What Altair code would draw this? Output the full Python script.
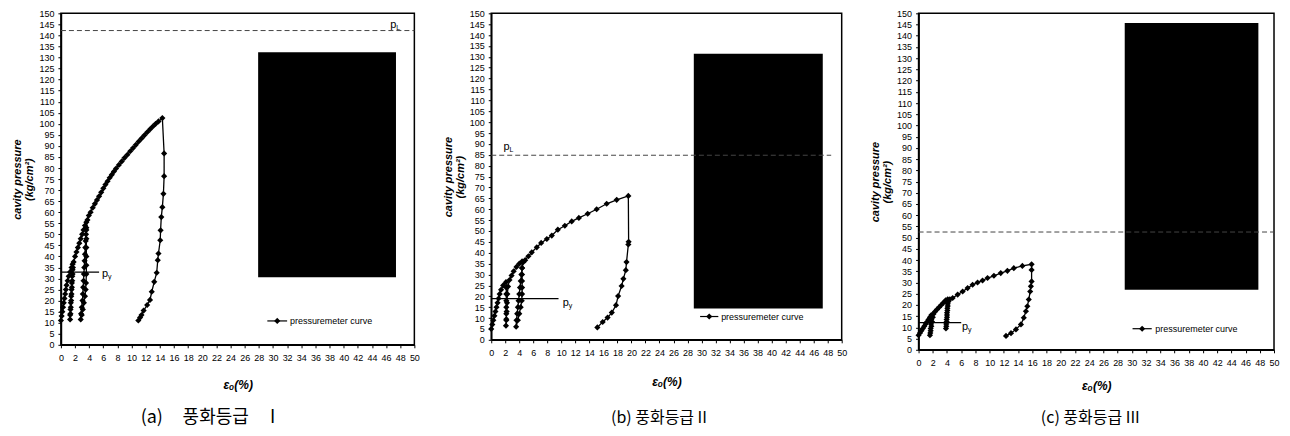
import altair as alt
import pandas as pd

# ---------------- Panel (a) ----------------
A_X = [0, 0.1, 0.2, 0.3, 0.4, 0.5, 0.6, 0.7, 0.8, 0.95, 1.1, 1.3, 1.5, 1.65,
       1.65, 1.6, 1.55, 1.5, 1.45, 1.4, 1.35, 1.3, 1.3,
       1.35, 1.4, 1.45, 1.5, 1.55, 1.6, 1.65, 1.7, 1.8,
       2.0, 2.2, 2.4, 2.6, 2.8, 3.0, 3.2, 3.4, 3.6,
       3.6, 3.6, 3.6, 3.6, 3.6, 3.6, 3.55, 3.5, 3.4, 3.25, 3.1, 2.95, 2.8,
       2.85, 2.95, 3.05, 3.1, 3.15, 3.2, 3.25, 3.3, 3.35, 3.4, 3.45, 3.5, 3.55, 3.6, 3.75,
       3.95, 4.2, 4.5, 4.8, 5.1, 5.4, 5.7, 6.0, 6.3, 6.6, 6.9, 7.2, 7.5, 7.8, 8.2, 8.6,
       9.0, 9.4, 9.8, 10.2, 10.6, 11.0, 11.4, 11.8, 12.2, 12.6, 13.0, 13.4, 13.8, 14.35,
       14.6, 14.6, 14.5, 14.35, 14.2, 14.1, 14.05, 13.8, 13.7, 13.55, 13.2, 12.85, 12.6,
       12.2, 11.7, 11.4, 11.2, 10.95]
A_Y = [11, 13, 15, 17, 19, 21, 23, 25, 27, 29, 31, 33, 35, 36.5,
       34, 31, 28, 25, 22, 19, 16, 13.5, 11.5,
       14, 17, 20, 23, 26, 29, 32, 35, 37.5,
       40, 42, 44, 46, 48, 50, 52, 54, 55.5,
       52, 48, 44, 40, 36, 32, 28, 25, 22, 19, 16, 13.5, 11.5,
       14, 17, 20, 23, 26, 29, 32, 35, 38, 41, 44, 47, 50, 53, 56.5,
       58.5, 60, 62, 63.8, 65.5, 67.2, 69, 70.8, 72.5, 74, 75.6, 77, 78.4, 79.8, 81.4, 83,
       84.6, 86, 87.6, 89, 90.5, 92, 93.4, 94.8, 96.2, 97.5, 98.8, 100, 101.1, 102.6,
       86.6, 76.3, 68.3, 62.3, 57.8, 51.8, 47.3, 41.3, 38.3, 32.6, 28.5, 24, 20.3,
       18, 15.5, 13.5, 12.3, 11]
A_PL = 142.2
A_PL_END = 50
A_PL_LABEL = (46.6, 144.8)
A_PY = 32.9
A_PY_END = 5.4
A_PY_LABEL = (5.8, 32.2)
A_BOX = (27.9, 47.4, 30.6, 132.4)
A_LEGEND = (29.2, 32.0, 30.6, 32.4, 10.8)
# caption pieces: text, centre offset from plot left (px), font size
A_CAPTION = [("(a)", 91, 18), ("풍화등급", 155, 18), ("I", 212, 18)]

# ---------------- Panel (b) ----------------
B_X = [0, 0.15, 0.3, 0.45, 0.6, 0.75, 0.9, 1.05, 1.2, 1.4, 1.7, 2.1,
       2.15, 2.15, 2.15, 2.15, 2.15, 2.15, 2.1,
       2.15, 2.2, 2.25, 2.3, 2.4, 2.6,
       2.9, 3.2, 3.6, 4.0, 4.4,
       4.4, 4.4, 4.4, 4.4, 4.4, 4.35, 4.2, 4.0, 3.8, 3.55,
       3.6, 3.7, 3.8, 3.9, 4.0, 4.1, 4.2, 4.3, 4.4, 4.6,
       4.84, 5.3, 5.78, 6.5, 7.12, 7.93, 8.64, 9.5, 10.5, 11.48, 12.5, 13.76, 15.04,
       16.47, 17.9, 19.56,
       19.6, 19.56, 19.3, 19.2, 18.85, 18.6, 18.1, 17.8, 17.2, 16.6, 15.9, 15.14]
B_Y = [5, 7, 9, 11, 13, 15, 17, 19, 21, 23, 25, 26.5,
       24, 21, 18, 15, 12, 9, 6.5,
       9.5, 13, 17, 21, 24.5, 27.5,
       29.5, 31.5, 33.5, 35, 36,
       33, 30, 27, 24, 21, 18, 15, 12, 9, 6,
       9, 12, 15, 18, 21, 24, 27, 30, 33, 35.8,
       36.6, 38.4, 40.2, 42.5, 44.5, 46.3, 47.9, 50.6, 52.4, 54.4, 56, 57.9, 60,
       62.5, 64.3, 66.1,
       45, 43.8, 35.7, 32, 28, 24.7, 20.1, 15.9, 12.5, 10.2, 8.2, 5.7]
B_PL = 84.8
B_PL_END = 48.5
B_PL_LABEL = (1.75, 88.7)
B_PY = 18.9
B_PY_END = 9.6
B_PY_LABEL = (10.2, 17.0)
B_BOX = (28.9, 47.3, 14.4, 131.4)
B_LEGEND = (29.8, 32.4, 31.1, 32.8, 10.7)
B_CAPTION = [("(b) 풍화등급 II", 168, 16)]

# ---------------- Panel (c) ----------------
C_X = [0, 0.2, 0.4, 0.6, 0.8, 1.0, 1.2, 1.4, 1.6, 1.8,
       1.8, 1.75, 1.7, 1.65, 1.6,
       1.7, 1.8, 1.9, 2.0, 2.1,
       2.3, 2.6, 2.9, 3.2, 3.5, 3.8, 4.1,
       4.1, 4.05, 4.0, 4.0, 3.95, 3.9, 3.85,
       3.9, 3.95, 4.0, 4.05, 4.1, 4.2, 4.4,
       4.8, 5.5, 6.2, 6.9, 7.6, 8.3, 9.0, 9.7, 10.6, 11.56, 12.5, 13.4, 14.6, 15.9,
       15.9, 15.9, 15.8, 15.7, 15.5, 15.3, 15.1, 14.8, 14.4, 13.7, 13.0, 12.3]
C_Y = [6.5, 7.5, 8.5, 9.5, 10.5, 11.5, 12.5, 13.5, 14.5, 15.5,
       13.5, 11.5, 9.5, 7.5, 6.5,
       8.5, 10.5, 12.5, 14.5, 16,
       17, 18, 19, 20, 21, 22, 22.5,
       20.5, 18.5, 16.5, 14.5, 12.5, 10.5, 9.5,
       11.5, 13.5, 15.5, 17.5, 19.5, 21.5, 22.5,
       23.1, 24.6, 26, 27.5, 29, 30, 30.9, 32, 33, 34.2, 35.2, 36.4, 37.4, 38.1,
       35.6, 30.5, 28.3, 26, 22.4, 19.4, 17.2, 14.3, 11.3, 9.1, 7.4, 6.2]
C_PL = 52.5
C_PL_END = 50
C_PL_LABEL = None
C_PY = 12.1
C_PY_END = 6.0
C_PY_LABEL = (6.1, 10.3)
C_BOX = (29.0, 47.8, 26.8, 145.7)
C_LEGEND = (30.1, 32.8, 31.45, 33.3, 9.4)
C_CAPTION = [("(c) 풍화등급 III", 172, 16)]

X_TICKS = list(range(0, 51, 2))
Y_TICKS = list(range(0, 151, 5))
Y_TITLE = ["cavity pressure", "(kg/cm²)"]
X_TITLE = "εₒ(%)"
LEGEND_TEXT = "pressuremeter curve"

NUM_FONT = "Liberation Sans Narrow, Liberation Sans, Arial, sans-serif"
TITLE_FONT = "Liberation Sans, Arial, sans-serif"
KR_FONT = "Noto Sans CJK KR"


def panel(xs, ys, pl, pl_end, pl_label, py, py_end, py_label, box, legend,
          caption, width, height, xtitle_dy):
    xsc = alt.Scale(domain=[0, 50], nice=False, zero=False)
    ysc = alt.Scale(domain=[0, 150], nice=False, zero=False)
    X = alt.X("x:Q", scale=xsc, axis=alt.Axis(
        values=X_TICKS, title=X_TITLE, titleX=width / 2, titleY=xtitle_dy,
        titleBaseline="middle", labelFont=NUM_FONT, labelFontSize=9,
        labelColor="black", tickSize=3, labelPadding=6, labelFlush=False,
        labelOverlap=False, titleFont=TITLE_FONT, titleFontSize=12,
        titleFontStyle="italic", titleFontWeight="bold", grid=False))
    Y = alt.Y("y:Q", scale=ysc, axis=alt.Axis(
        values=Y_TICKS, title=Y_TITLE, titleX=-43, titleY=height / 2,
        titleAngle=270, titleBaseline="middle", titleAlign="center",
        titleLineHeight=12, labelFont=NUM_FONT, labelFontSize=9,
        labelColor="black", tickSize=3, labelPadding=4, labelFlush=False,
        labelOverlap=False, titleFont=TITLE_FONT, titleFontSize=11,
        titleFontStyle="italic", titleFontWeight="bold", grid=False))

    df = pd.DataFrame({"x": xs, "y": ys, "i": list(range(len(xs)))})
    line = alt.Chart(df).mark_line(color="black", strokeWidth=1.3).encode(
        x=X, y=Y, order="i:Q")
    pts = alt.Chart(df).mark_point(shape="diamond", filled=True, color="black",
                                   size=38, opacity=1).encode(x=X, y=Y)

    pl_df = pd.DataFrame({"x": [0], "x2": [pl_end], "y": [pl]})
    pl_rule = alt.Chart(pl_df).mark_rule(color="#444", strokeWidth=1,
                                         strokeDash=[5, 3]).encode(
        x=X, x2="x2:Q", y=Y)

    py_df = pd.DataFrame({"x": [0], "x2": [py_end], "y": [py]})
    py_rule = alt.Chart(py_df).mark_rule(color="black", strokeWidth=1.3).encode(
        x=X, x2="x2:Q", y=Y)

    bx = pd.DataFrame({"x": [box[0]], "x2": [box[1]], "y": [box[2]], "y2": [box[3]]})
    rect = alt.Chart(bx).mark_rect(color="black").encode(
        x=X, x2="x2:Q", y=Y, y2="y2:Q")

    lg_line = alt.Chart(pd.DataFrame({"x": [legend[0]], "x2": [legend[1]],
                                      "y": [legend[4]]})).mark_rule(
        color="black", strokeWidth=1.2).encode(x=X, x2="x2:Q", y=Y)
    lg_pt = alt.Chart(pd.DataFrame({"x": [legend[2]], "y": [legend[4]]})).mark_point(
        shape="diamond", filled=True, color="black", size=38, opacity=1).encode(x=X, y=Y)
    lg_txt = alt.Chart(pd.DataFrame({"x": [legend[3]], "y": [legend[4]],
                                     "t": [LEGEND_TEXT]})).mark_text(
        align="left", baseline="middle", font=TITLE_FONT, fontSize=9,
        color="black").encode(x=X, y=Y, text="t:N")

    layers = [rect, pl_rule, py_rule, line, pts, lg_line, lg_pt, lg_txt]

    def sub_label(pos, main, sub):
        d = pd.DataFrame({"x": [pos[0]], "y": [pos[1]], "t": [main], "s": [sub]})
        m = alt.Chart(d).mark_text(align="left", baseline="middle",
                                   font=TITLE_FONT, fontSize=11, color="black").encode(
            x=X, y=Y, text="t:N")
        s = alt.Chart(d).mark_text(align="left", baseline="middle", dx=6, dy=3,
                                   font=TITLE_FONT, fontSize=7, color="black").encode(
            x=X, y=Y, text="s:N")
        return [m, s]

    if pl_label is not None:
        layers += sub_label(pl_label, "p", "L")
    layers += sub_label(py_label, "p", "y")

    for txt, cx, fs in caption:
        cap = alt.Chart(pd.DataFrame({"t": [txt]})).mark_text(
            align="center", baseline="middle", font=KR_FONT, fontSize=fs,
            color="black").encode(text="t:N", x=alt.value(cx), y=alt.value(405))
        layers.append(cap)

    return alt.layer(*layers).properties(width=width, height=height)


pa = panel(A_X, A_Y, A_PL, A_PL_END, A_PL_LABEL, A_PY, A_PY_END, A_PY_LABEL,
           A_BOX, A_LEGEND, A_CAPTION, 354, 332, 40)
pb = panel(B_X, B_Y, B_PL, B_PL_END, B_PL_LABEL, B_PY, B_PY_END, B_PY_LABEL,
           B_BOX, B_LEGEND, B_CAPTION, 351, 327, 42)
pc = panel(C_X, C_Y, C_PL, C_PL_END, C_PL_LABEL, C_PY, C_PY_END, C_PY_LABEL,
           C_BOX, C_LEGEND, C_CAPTION, 356, 337, 36)

chart = alt.hconcat(pa, pb, pc, spacing=77, bounds="flush").properties(
    padding={"left": 3, "top": 0, "right": 2, "bottom": 0},
    background="white",
).configure_view(stroke="black", strokeWidth=1.5).configure_axis(
    domainColor="black", domainWidth=1.6, tickColor="black")

chart.save("out.html", embed_options={"renderer": "svg", "actions": False})
